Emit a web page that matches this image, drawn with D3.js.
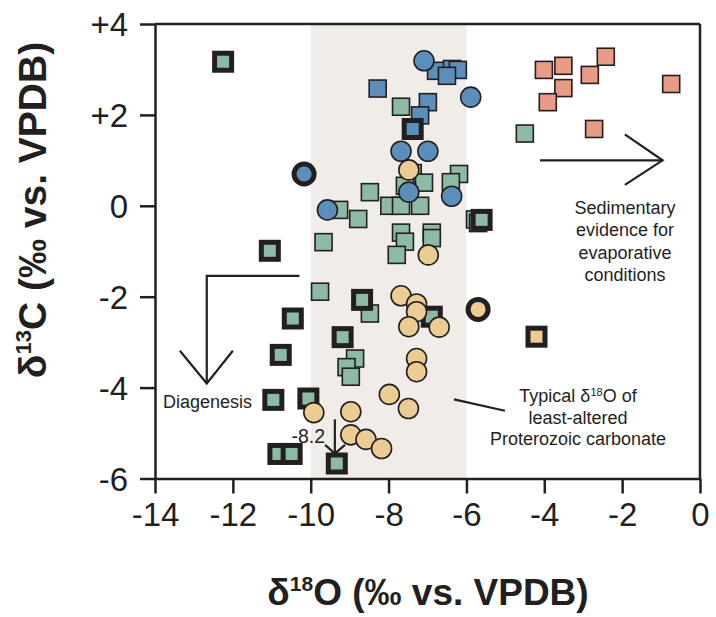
<!DOCTYPE html>
<html><head><meta charset="utf-8">
<script src="https://cdn.jsdelivr.net/npm/d3@7"></script>
<style>body{margin:0;background:#fff}svg{display:block}text{font-family:"Liberation Sans",Arial,Helvetica,sans-serif;fill:#231f20}</style>
</head><body><svg id="c" width="716" height="617"></svg>
<script>
// ---- data (δ18O, δ13C) ----
const xTicks = [-14,-12,-10,-8,-6,-4,-2,0];
const yTicks = [4,2,0,-2,-4,-6];
const yTickLabels = ["+4","+2","0","-2","-4","-6"];
const band = [-10,-6];

const greenSquares = [[-7.68,2.18],[-4.50,1.59],[-6.19,0.70],[-7.38,0.72],[-7.09,0.51],[-7.58,0.44],[-8.48,0.30],[-6.40,0.52],
 [-7.98,0.00],[-7.68,0.00],[-7.19,0.00],[-9.27,-0.09],[-8.78,-0.29],[-5.78,-0.30],[-5.70,-0.38],[-7.68,-0.59],[-7.58,-0.79],
 [-7.79,-1.08],[-6.89,-0.59],[-6.89,-0.71],[-9.67,-0.80],[-9.76,-1.89],[-8.48,-2.37],[-8.86,-3.36],[-9.08,-3.55],[-8.97,-3.76]];
const greenBoldSquares = [[-12.25,3.17],[-11.05,-0.99],[-10.46,-2.48],[-10.77,-3.28],[-10.96,-4.27],[-10.06,-4.24],[-10.83,-5.46],
 [-10.49,-5.46],[-9.33,-5.67],[-9.18,-2.89],[-8.68,-2.07],[-6.89,-2.44],[-5.61,-0.31]];
const blueSquares = [[-6.78,2.97],[-6.37,3.01],[-6.22,2.99],[-6.50,2.86],[-8.28,2.58],[-6.99,2.28],[-7.19,1.99]];
const blueBoldSquares = [[-7.38,1.69]];
const blueCircles = [[-7.09,3.19],[-5.89,2.39],[-7.68,1.20],[-6.99,1.20],[-7.48,0.30],[-6.38,0.21],[-9.57,-0.09]];
const blueBoldCircles = [[-10.17,0.70]];
const yellowCircles = [[-7.48,0.79],[-6.98,-1.08],[-7.68,-1.98],[-7.28,-2.16],[-7.28,-2.33],[-7.48,-2.66],[-6.70,-2.67],
 [-7.28,-3.36],[-7.28,-3.65],[-7.98,-4.15],[-7.49,-4.46],[-9.92,-4.55],[-8.97,-4.53],[-8.97,-5.04],[-8.58,-5.14],[-8.18,-5.34]];
const yellowBoldCircles = [[-5.70,-2.28]];
const yellowBoldSquares = [[-4.20,-2.88]];
const salmonSquares = [[-4.01,2.99],[-3.51,3.08],[-2.42,3.28],[-2.83,2.88],[-3.51,2.59],[-3.91,2.28],[-0.74,2.68],[-2.72,1.69]];

// annotation geometry in data units
const diagLine = [[-10.29,-1.54],[-12.67,-1.54],[-12.67,-3.91]];
const diagHead = [[-13.36,-3.19],[-12.67,-3.91],[-12.00,-3.19]];
const minLine = [[-9.38,-4.70],[-9.38,-5.45]];
const minHead = [[-9.63,-5.26],[-9.38,-5.45],[-9.12,-5.26]];
const evapLine = [[-4.11,1.0],[-0.96,1.0]];
const evapHead = [[-1.93,1.57],[-0.96,1.0],[-1.93,0.46]];
const typLine = [[-6.32,-4.26],[-5.01,-4.51]];

const C = {green:"#8dbaa4", blue:"#5a8fbb", yellow:"#ebcc93", salmon:"#e99b86", ink:"#231f20", band:"#f0ede9"};

const svg = d3.select("#c");
const x = d3.scaleLinear().domain([-14,0]).range([155,700]);
const y = d3.scaleLinear().domain([-6,4]).range([478.5,24]);

// band
svg.append("rect").attr("x",x(band[0])).attr("y",y(4)).attr("width",x(band[1])-x(band[0])).attr("height",y(-6)-y(4)).attr("fill",C.band);

// axes
const gx = svg.append("g").attr("transform",`translate(0,${y(-6)})`)
  .call(d3.axisBottom(x).tickValues(xTicks).tickSize(15).tickSizeOuter(0).tickPadding(9).tickFormat(d=>d===0?"0":String(d)));
const gy = svg.append("g").attr("transform",`translate(${x(-14)},0)`)
  .call(d3.axisLeft(y).tickValues(yTicks).tickSize(15).tickSizeOuter(0).tickPadding(12).tickFormat((d,i)=>yTickLabels[i]));
[gx,gy].forEach(g=>{
  g.selectAll("path,line").attr("stroke",C.ink).attr("stroke-width",2.5);
  g.selectAll("text").attr("fill",C.ink).style("font-size","33px");
});
gy.selectAll("text").attr("dy","0.36em");
// top and right frame
svg.append("line").attr("x1",x(-14)).attr("x2",x(0)).attr("y1",y(4)).attr("y2",y(4)).attr("stroke",C.ink).attr("stroke-width",2.5);
svg.append("line").attr("x1",x(0)).attr("x2",x(0)).attr("y1",y(4)).attr("y2",y(-6)).attr("stroke",C.ink).attr("stroke-width",2.5);

// annotations
const line = d3.line().x(d=>x(d[0])).y(d=>y(d[1]));
[diagLine,diagHead,minLine,minHead,evapLine,evapHead,typLine].forEach(p=>{
  svg.append("path").attr("d",line(p)).attr("fill","none").attr("stroke",C.ink).attr("stroke-width",2.2);
});
const ann = svg.append("g").style("font-size","18px");
ann.append("text").attr("x",163).attr("y",408).text("Diagenesis");
ann.append("text").attr("x",325).attr("y",443).attr("text-anchor","end").style("font-size","19.5px").text("-8.2");
const typ = ann.append("text").attr("text-anchor","middle");
const t1 = typ.append("tspan").attr("x",578).attr("y",402);
t1.append("tspan").text("Typical δ");
t1.append("tspan").attr("font-size","11px").attr("dy","-6").text("18");
t1.append("tspan").attr("dy","6").text("O of");
typ.append("tspan").attr("x",578).attr("y",423.5).text("least-altered");
typ.append("tspan").attr("x",578).attr("y",445).text("Proterozoic carbonate");
const sed = ann.append("text").attr("text-anchor","middle");
["Sedimentary","evidence for","evaporative","conditions"].forEach((s,i)=>{
  sed.append("tspan").attr("x",625).attr("y",213.5+i*22.5).text(s);
});

// markers
function squares(data, fill, bold){
  svg.append("g").selectAll("rect").data(data).join("rect")
    .attr("x",d=>x(d[0])-8.5).attr("y",d=>y(d[1])-8.5).attr("width",17).attr("height",17)
    .attr("fill",fill).attr("stroke",C.ink).attr("stroke-width",bold?5:1.6);
}
function circles(data, fill, bold){
  svg.append("g").selectAll("circle").data(data).join("circle")
    .attr("cx",d=>x(d[0])).attr("cy",d=>y(d[1])).attr("r",10)
    .attr("fill",fill).attr("stroke",C.ink).attr("stroke-width",bold?5:1.6);
}
squares(greenSquares,C.green,false);
squares(greenBoldSquares,C.green,true);
squares(blueSquares,C.blue,false);
squares(blueBoldSquares,C.blue,true);
circles(blueCircles,C.blue,false);
circles(blueBoldCircles,C.blue,true);
circles(yellowCircles,C.yellow,false);
circles(yellowBoldCircles,C.yellow,true);
squares(yellowBoldSquares,C.yellow,true);
squares(salmonSquares,C.salmon,false);

// axis titles
const xt = svg.append("text").attr("x",428).attr("y",605).attr("text-anchor","middle")
  .style("font-size","37px").style("font-weight","bold");
xt.append("tspan").text("δ");
xt.append("tspan").attr("font-size","21px").attr("dy","-14").text("18");
xt.append("tspan").attr("dy","14").text("O (‰ vs. VPDB)");
const yt = svg.append("text").attr("transform","translate(46,210) rotate(-90)").attr("text-anchor","middle")
  .style("font-size","39px").style("font-weight","bold");
yt.append("tspan").text("δ");
yt.append("tspan").attr("font-size","22px").attr("dy","-15").text("13");
yt.append("tspan").attr("dy","15").text("C (‰ vs. VPDB)");
</script></body></html>
